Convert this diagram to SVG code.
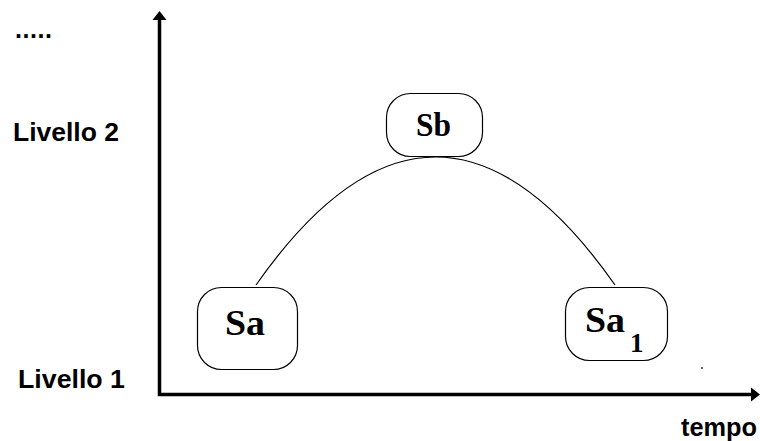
<svg xmlns="http://www.w3.org/2000/svg" width="760" height="441" viewBox="0 0 760 441">
  <style>
    .lbl { font-family: "Liberation Sans", Arial, sans-serif; font-weight: bold; font-size: 25px; fill: #000; }
    .st { font-family: "Liberation Serif", "Times New Roman", serif; font-weight: bold; fill: #000; }
    .box { fill: #fff; stroke: #000; stroke-width: 1.2; }
    .axis { fill: none; stroke: #000; stroke-width: 3.5; stroke-linejoin: miter; }
    .arc { fill: none; stroke: #000; stroke-width: 1.2; }
  </style>
  <rect width="760" height="441" fill="#fff"/>

  <!-- axes -->
  <g id="axes">
    <polyline class="axis" points="159.5,18 159.5,394.5 753,394.5"/>
    <polygon points="159.5,11 166.5,20 152.5,20" fill="#000"/>
    <polygon points="760,394.5 751,387.5 751,401.5" fill="#000"/>
  </g>

  <!-- axis labels -->
  <g id="labels">
    <text class="lbl" x="15" y="38" textLength="37" lengthAdjust="spacing">.....</text>
    <text class="lbl" x="13" y="141" textLength="106" lengthAdjust="spacingAndGlyphs">Livello 2</text>
    <text class="lbl" x="18" y="388" textLength="107" lengthAdjust="spacingAndGlyphs">Livello 1</text>
    <text class="lbl" x="681" y="436" textLength="76" lengthAdjust="spacingAndGlyphs">tempo</text>
    <rect x="701" y="367" width="2" height="2" fill="#666"/>
  </g>

  <!-- transition between states -->
  <g id="connectors">
    <path class="arc" d="M256,285 Q435.5,29 615,285"/>
  </g>

  <g id="node-sb">
    <rect class="box" x="386.5" y="93.5" width="96" height="63" rx="24" ry="24"/>
    <text class="st" x="416" y="136" font-size="34" textLength="35" lengthAdjust="spacingAndGlyphs">Sb</text>
  </g>

  <g id="node-sa">
    <rect class="box" x="197.5" y="287.5" width="100" height="82" rx="24" ry="24"/>
    <text class="st" x="225" y="335" font-size="35" textLength="40" lengthAdjust="spacingAndGlyphs">Sa</text>
  </g>

  <g id="node-sa1">
    <rect class="box" x="565.5" y="287.5" width="102" height="73" rx="24" ry="24"/>
    <text class="st" x="585" y="332" font-size="35" textLength="40" lengthAdjust="spacingAndGlyphs">Sa</text>
    <text class="st" x="630" y="352" font-size="27">1</text>
  </g>
</svg>
